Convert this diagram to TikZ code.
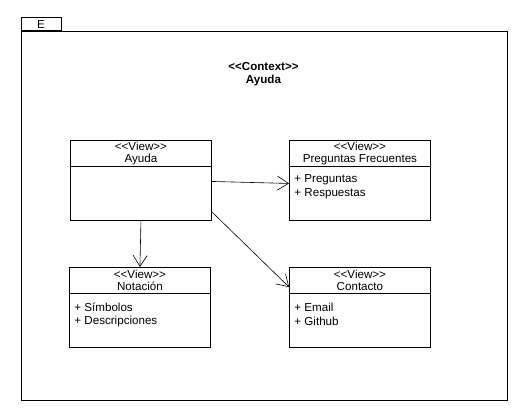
\documentclass[tikz,border=0pt]{standalone}
\usepackage{fontspec}
\setmainfont{Liberation Sans}
\usetikzlibrary{arrows.meta}
\begin{document}
\begin{tikzpicture}[x=1pt,y=-1pt,
  line width=0.9pt,
  every node/.style={font=\fontsize{11.6}{12.5}\selectfont, inner sep=0pt},
  cls/.style={draw, anchor=north west, minimum width=141pt, minimum height=80pt},
  hdr/.style={align=center},
  attr/.style={anchor=west},
  conn/.style={line width=0.6pt, -{Straight Barb[length=11pt,width=14pt,line width=0.6pt]}}
]
\useasboundingbox (0,0) rectangle (518,412);
% frame
\node[draw, anchor=north west, minimum width=486pt, minimum height=369pt] (frame) at (21,31) {};
\node[draw, anchor=south west, minimum width=40pt, minimum height=13.5pt] (tab) at (21,31) {};
\node (tabl) at (41,24.5) {E};
\node[align=center, font=\fontsize{11.6}{13}\selectfont\bfseries] (title) at (263.5,74.5) {<{}<Context>{}>\\Ayuda};
% classes
\node[cls] (ayuda) at (70,140) {};
\node[cls] (preg) at (289,140) {};
\node[cls] (nota) at (69,267) {};
\node[cls] (cont) at (289,267) {};
\foreach \n in {ayuda,preg,nota,cont}{
  \draw ([yshift=-26pt]\n.north west) -- ([yshift=-26pt]\n.north east);
}
\node[hdr] (ayudah) at ([yshift=-13.5pt]ayuda.north) {<{}<View>{}>\\Ayuda};
\node[hdr] (pregh) at ([yshift=-13.5pt]preg.north) {<{}<View>{}>\\Preguntas Frecuentes};
\node[hdr] (notah) at ([yshift=-13.5pt]nota.north) {<{}<View>{}>\\Notación};
\node[hdr] (conth) at ([yshift=-13.5pt]cont.north) {<{}<View>{}>\\Contacto};
\node[attr] (p1) at (294,180) {+ Preguntas};
\node[attr] (p2) at (294,194) {+ Respuestas};
\node[attr] (n1) at (74,307) {+ Símbolos};
\node[attr] (n2) at (74,321) {+ Descripciones};
\node[attr] (c1) at (294,307) {+ Email};
\node[attr] (c2) at (294,321) {+ Github};
% connectors
\draw[conn] ([yshift=-1pt]ayuda.east) -- ([yshift=-3pt]preg.west);
\draw[conn] (ayuda.south) -- (nota.north);
\draw[conn] ([yshift=9pt]ayuda.south east) -- ([yshift=-20pt]cont.north west);
\end{tikzpicture}
\end{document}
